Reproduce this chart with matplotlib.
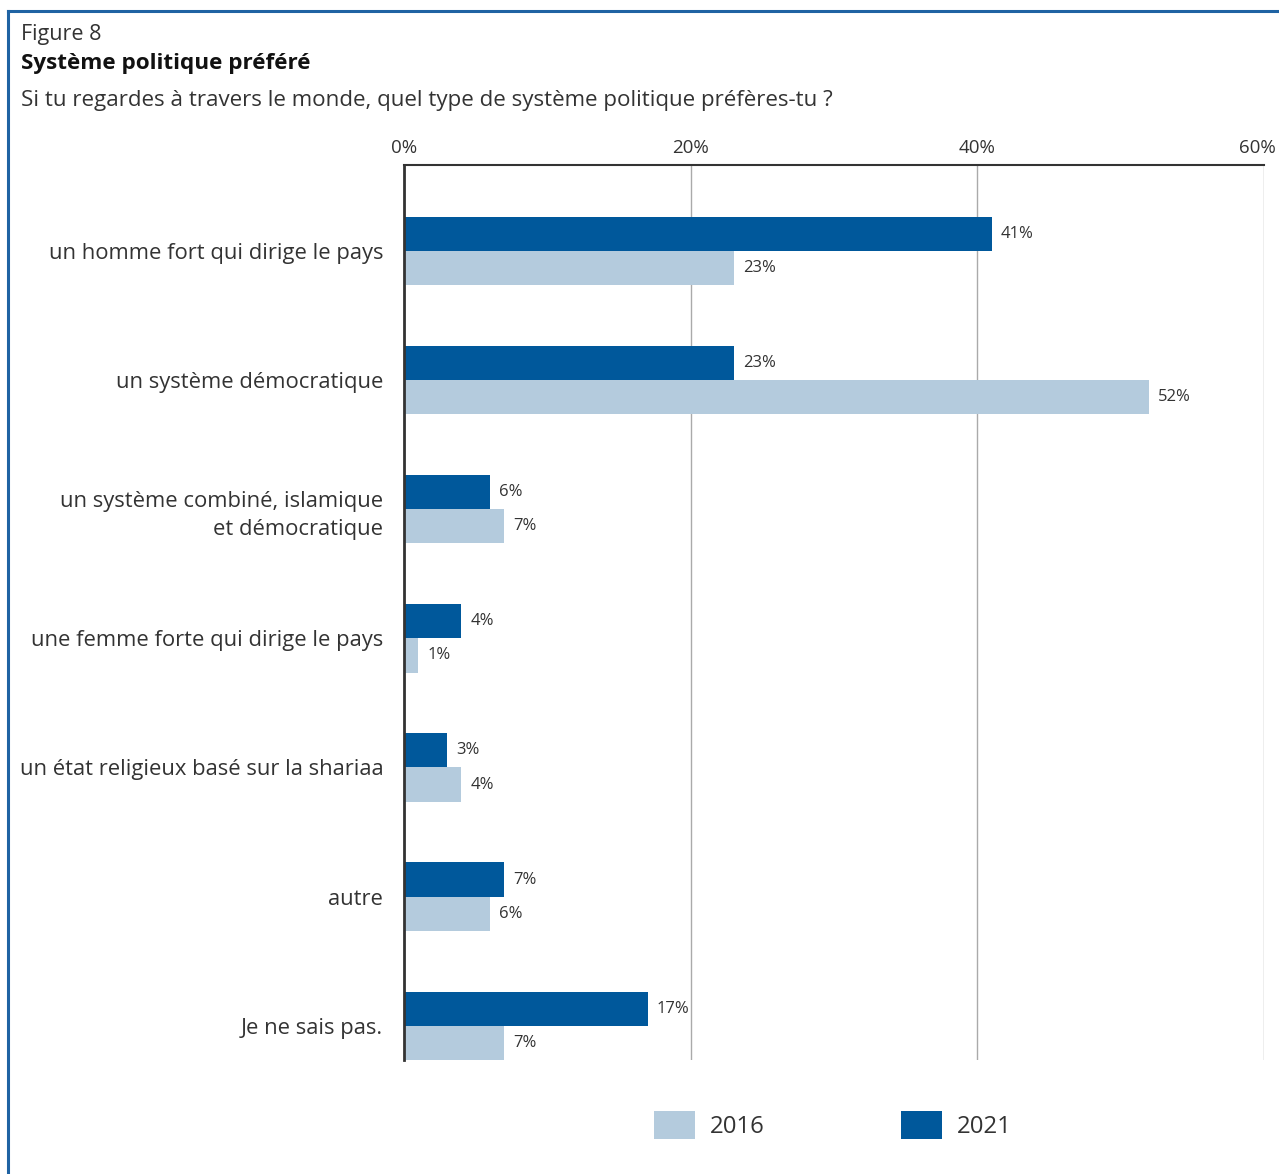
import matplotlib
matplotlib.use("Agg")
import matplotlib.pyplot as plt
from matplotlib.patches import Patch
from matplotlib.lines import Line2D
from matplotlib.transforms import ScaledTranslation
import numpy as np

categories = ["un homme fort qui dirige le pays",
              "un système démocratique",
              "un système combiné, islamique\net démocratique",
              "une femme forte qui dirige le pays",
              "un état religieux basé sur la shariaa",
              "autre",
              "Je ne sais pas."]
values_2021 = [41, 23, 6, 4, 3, 7, 17]
values_2016 = [23, 52, 7, 1, 4, 6, 7]
xticks = [0, 20, 40, 60]
xtick_labels = ["0%", "20%", "40%", "60%"]

DARK = "#00589b"
LIGHT = "#b4cbdd"
TXT = "#333333"
BORDER = "#1f63a3"

plt.rcParams['font.family'] = ['Open Sans', 'DejaVu Sans']

fig = plt.figure(figsize=(12.79, 11.74), dpi=100)
ax = fig.add_axes([404/1279, 1-1060/1174, 860/1279, (1060-165)/1174])

y = np.arange(len(categories))
h = 0.265
ax.barh(y - h/2, values_2021, height=h, color=DARK, zorder=3)
ax.barh(y + h/2, values_2016, height=h, color=LIGHT, zorder=3)

for yi, v in zip(y, values_2021):
    ax.annotate(f"{v}%", (v, yi - h/2), xytext=(9, 0), textcoords="offset pixels",
                va="center", ha="left", fontsize=12, color=TXT)
for yi, v in zip(y, values_2016):
    ax.annotate(f"{v}%", (v, yi + h/2), xytext=(9, 0), textcoords="offset pixels",
                va="center", ha="left", fontsize=12, color=TXT)

ax.set_xlim(0, 60)
ax.set_ylim(len(categories) - 1 + h, -0.665)
ax.set_xticks(xticks)
ax.set_xticklabels(xtick_labels, fontsize=13.5, color=TXT)
ax.xaxis.tick_top()
ax.tick_params(axis='x', length=0, pad=6)
lbls = ax.get_xticklabels()
lbls[-1].set_transform(lbls[-1].get_transform() + ScaledTranslation(-7/100, 0, fig.dpi_scale_trans))
ax.set_yticks(y)
ax.set_yticklabels(categories, fontsize=15.8, color=TXT, linespacing=1.45)
ax.tick_params(axis='y', length=0, pad=15)

ax.grid(axis='x', color="#aaaaaa", linewidth=1, zorder=0)
for s in ["right", "bottom"]:
    ax.spines[s].set_visible(False)
ax.spines["left"].set_color("#333333")
ax.spines["left"].set_linewidth(2)
ax.spines["left"].set_zorder(4)
ax.spines["top"].set_color("#333333")
ax.spines["top"].set_linewidth(1.5)

# figure border (top and left)
fig.add_artist(Line2D([8/1279, 1], [1-11/1174, 1-11/1174], transform=fig.transFigure, color=BORDER, linewidth=2.2))
fig.add_artist(Line2D([8/1279, 8/1279], [0, 1-11/1174], transform=fig.transFigure, color=BORDER, linewidth=2.2))

fig.text(21/1279, 1-40/1174, "Figure 8", fontsize=15.5, color=TXT, va="baseline")
fig.text(21/1279, 1-69/1174, "Système politique préféré", fontsize=16.2, color="#111111", fontweight="bold", va="baseline")
fig.text(21/1279, 1-106/1174, "Si tu regardes à travers le monde, quel type de système politique préfères-tu ?", fontsize=16.1, color=TXT, va="baseline")

handles = [Patch(facecolor=LIGHT, label="2016"), Patch(facecolor=DARK, label="2021")]
fig.legend(handles=handles, loc="center", bbox_to_anchor=(833/1279, 1-1125/1174), ncol=2, frameon=False,
           fontsize=17.3, handlelength=1.7, handleheight=1.45, columnspacing=5.7, handletextpad=0.62, labelcolor=TXT)

fig.savefig("out.png", dpi=100)
